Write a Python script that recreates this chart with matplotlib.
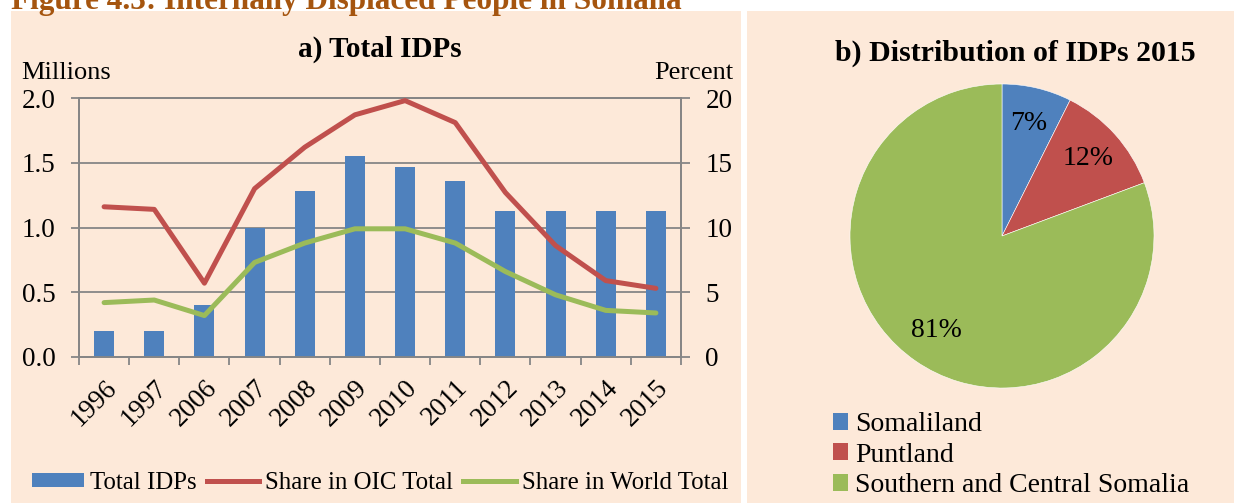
import matplotlib.pyplot as plt
import numpy as np
from matplotlib.lines import Line2D
from matplotlib.patches import Patch, Rectangle

plt.rcParams["font.family"] = ["Liberation Serif", "DejaVu Serif"]

# panel a) data
years = ["1996", "1997", "2006", "2007", "2008", "2009", "2010",
         "2011", "2012", "2013", "2014", "2015"]
total_idps = [0.2, 0.2, 0.4, 1.0, 1.28, 1.55, 1.47, 1.36, 1.13, 1.13, 1.13, 1.13]
share_oic = [11.6, 11.4, 5.7, 13.0, 16.2, 18.7, 19.8, 18.1, 12.7, 8.6, 5.9, 5.3]
share_world = [4.2, 4.4, 3.2, 7.3, 8.8, 9.9, 9.9, 8.8, 6.6, 4.8, 3.6, 3.4]

# panel b) data
regions = ["Somaliland", "Puntland", "Southern and Central Somalia"]
region_share = [7.4, 11.9, 80.7]
region_labels = ["7%", "12%", "81%"]

BLUE = "#4F81BD"
RED = "#C0504D"
GREEN = "#9BBB59"
PANEL = "#FDE9D9"
GRID = "#868686"
FS = 19.5

W, H = 1234, 503
fig = plt.figure(figsize=(W / 100, H / 100), dpi=100)
fig.patch.set_facecolor("white")


def fx(px):
    return px / W


def fy(py):
    return 1 - py / H


# background panels
for x0, x1 in [(11, 741), (747, 1234)]:
    fig.patches.append(Rectangle((fx(x0), 0), fx(x1 - x0), fy(11),
                                 transform=fig.transFigure, facecolor=PANEL,
                                 edgecolor="none", zorder=-5))

fig.text(fx(11), fy(9), "Figure 4.3: Internally Displaced People in Somalia",
         fontsize=22.5, fontweight="bold", color="#A5550F", ha="left", va="baseline")

# ---- panel a ----
ax = fig.add_axes([fx(79), fy(357), fx(681 - 79), (357 - 98) / H])
ax.set_facecolor("none")
x = np.arange(len(years))
ax.bar(x, total_idps, width=0.4, color=BLUE, zorder=3)
ax.set_xlim(-0.5, len(years) - 0.5)
ax.set_ylim(0, 2.0)
ax.set_yticks([0, 0.5, 1.0, 1.5, 2.0])
ax.set_yticklabels(["0.0", "0.5", "1.0", "1.5", "2.0"])
ax.yaxis.grid(True, color=GRID, lw=1.3, zorder=0)
ax.set_axisbelow(True)
ax.set_xticks(x)
ax.set_xticklabels(years, rotation=45, ha="right", rotation_mode="anchor")
ax.set_xticks(np.arange(-0.5, len(years)), minor=True)
ax.tick_params(axis="x", which="major", length=0, pad=13, labelsize=FS)
ax.tick_params(axis="x", which="minor", length=6, width=1.3, color=GRID)
ax.tick_params(axis="y", length=6, width=1.3, color=GRID, pad=11, labelsize=FS)
for s in ax.spines.values():
    s.set_color(GRID)
    s.set_linewidth(1.3)

ax2 = ax.twinx()
ax2.plot(x, share_oic, color=RED, lw=3.6, solid_capstyle="round", zorder=4)
ax2.plot(x, share_world, color=GREEN, lw=3.6, solid_capstyle="round", zorder=4)
ax2.set_ylim(0, 20)
ax2.set_yticks([0, 5, 10, 15, 20])
ax2.tick_params(axis="y", length=6.5, width=1.3, color=GRID, pad=11, labelsize=FS)
for s in ax2.spines.values():
    s.set_color(GRID)
    s.set_linewidth(1.3)

fig.text(fx(21), fy(73), "Millions", fontsize=19, ha="left", va="center")
fig.text(fx(733), fy(73), "Percent", fontsize=19, ha="right", va="center")
fig.text(fx(380), fy(49), "a) Total IDPs", fontsize=21, fontweight="bold",
         ha="center", va="center")

handles = [Patch(facecolor=BLUE, edgecolor="none"),
           Line2D([], [], color=RED, lw=3.6),
           Line2D([], [], color=GREEN, lw=3.6)]
fig.legend(handles, ["Total IDPs", "Share in OIC Total", "Share in World Total"],
           loc="center left", bbox_to_anchor=(fx(22), fy(483)), ncol=3,
           frameon=False, fontsize=17.9, handlelength=2.1, handleheight=0.5,
           handletextpad=0.25, columnspacing=0.4, borderaxespad=0)

# ---- panel b ----
r = 152
pax = fig.add_axes([fx(1002 - r), fy(236 + r), fx(2 * r), 2 * r / H])
wedges, _, autotexts = pax.pie(region_share, colors=[BLUE, RED, GREEN],
                               startangle=90, counterclock=False,
                               autopct="%1.0f%%", pctdistance=0.76,
                               wedgeprops=dict(edgecolor="white", linewidth=0.4))
for t, lab in zip(autotexts, region_labels):
    t.set_text(lab)
    t.set_fontsize(20)
pax.set_xlim(-1, 1)
pax.set_ylim(-1, 1)
pax.set_aspect("equal")

fig.text(fx(1015), fy(53), "b) Distribution of IDPs 2015", fontsize=21.5,
         fontweight="bold", ha="center", va="center")

phandles = [Patch(facecolor=c, edgecolor="none") for c in [BLUE, RED, GREEN]]
fig.legend(phandles, regions, loc="upper left", bbox_to_anchor=(fx(822), fy(401)),
           frameon=False, fontsize=20, handlelength=0.55, handleheight=0.55,
           handletextpad=0.25, labelspacing=0.2, borderaxespad=0)

fig.savefig("out.png", dpi=100, facecolor="white")
